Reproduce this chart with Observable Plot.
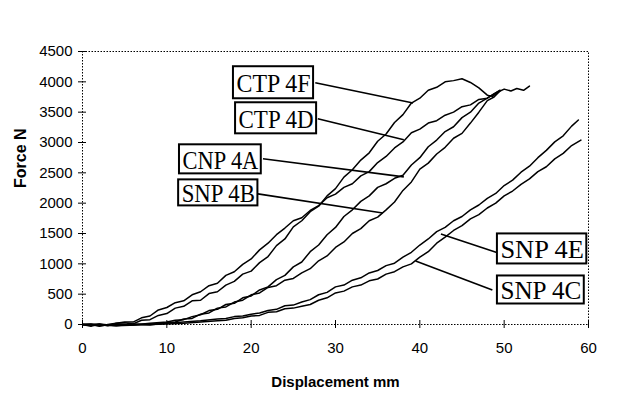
<!DOCTYPE html>
<html>
<head>
<meta charset="utf-8">
<script src="https://cdn.jsdelivr.net/npm/d3@7"></script>
<script src="https://cdn.jsdelivr.net/npm/@observablehq/plot@0.6"></script>
<style>
  html, body { margin: 0; padding: 0; background: #fff; }
</style>
</head>
<body>
<div id="chart"></div>
<script>
// Axis ticks
const xTicks = [0, 10, 20, 30, 40, 50, 60];
const yTicks = [0, 500, 1000, 1500, 2000, 2500, 3000, 3500, 4000, 4500];

// Series (Displacement mm, Force N)
const ctp4F_x = [0,1,2,3,4,5,6,7,8,9,10,11,12,13,14,15,16,17,18,19,20,21,22,23,24,25,26,27,28,29,30,31,32,33,34,35,36,37,38,39,40,41,42,43,44,45,46,47,48,48.6,49.4,50,50.8,51.5,52.3,53];
const ctp4F_y = [0,-30,10,-20,20,30,10,70,80,150,180,270,300,390,400,510,540,650,710,830,880,1020,1120,1300,1410,1610,1710,1860,1950,2120,2240,2430,2550,2710,2830,3020,3140,3330,3460,3650,3730,3860,3910,4000,4020,4050,3990,3900,3780,3760,3840,3880,3850,3890,3860,3930];

const ctp4D_x = [0,1,2,3,4,5,6,7,8,9,10,11,12,13,14,15,16,17,18,19,20,21,22,23,24,25,26,27,28,29,30,31,32,33,34,35,36,37,38,39,40,41,42,43,44,45,46,47,48,48.8,49.5];
const ctp4D_y = [0,10,-30,0,20,40,40,110,140,240,280,360,390,490,540,640,680,810,870,990,1080,1230,1340,1480,1590,1710,1760,1880,1960,2090,2150,2260,2320,2450,2520,2670,2770,2910,3010,3160,3220,3320,3360,3450,3500,3590,3620,3710,3730,3800,3860];

const cnp4A_x = [0,2,4,6,8,10,11,12,13,14,15,16,17,18,19,20,21,22,23,24,25,26,27,28,29,30,31,32,33,34,35,36,37,38,39,40,41,42,43,44,45,46,47,48,48.8,49.5];
const cnp4A_y = [0,-20,10,-10,20,40,70,80,130,160,230,250,330,350,440,470,570,620,740,810,950,1030,1200,1310,1480,1600,1780,1890,2030,2120,2260,2320,2410,2460,2630,2750,2930,3040,3180,3260,3410,3500,3650,3730,3800,3860];

const snp4B_x = [0,2,4,6,8,10,11,12,13,14,15,16,17,18,19,20,21,22,23,24,25,26,27,28,29,30,31,32,33,34,35,36,37,38,39,40,41,42,43,44,45,46,47,48,48.8,49.5];
const snp4B_y = [0,10,-20,10,-10,30,40,90,100,170,190,270,290,370,400,490,520,610,640,730,760,850,920,1050,1130,1270,1360,1500,1580,1710,1770,1890,2020,2210,2350,2560,2660,2810,2920,3070,3150,3320,3500,3690,3750,3850];

const snp4E_x = [0,4,8,10,12,14,16,17,18,19,20,21,22,23,24,25,26,27,28,29,30,31,32,33,34,35,36,37,38,39,40,41,42,43,44,45,46,47,48,49,50,51,52,53,54,55,56,57,58,58.8];
const snp4E_y = [0,-10,10,20,40,60,90,100,130,140,170,190,230,250,310,320,370,410,490,530,620,650,730,770,850,890,970,1010,1110,1190,1310,1410,1530,1600,1710,1780,1890,1970,2080,2160,2290,2380,2510,2610,2750,2870,3010,3110,3270,3370];

const snp4C_x = [0,4,8,10,12,14,16,17,18,19,20,21,22,23,24,25,26,27,28,29,30,31,32,33,34,35,36,37,38,39,40,41,42,43,44,45,46,47,48,49,50,51,52,53,54,55,56,57,58,59.1];
const snp4C_y = [0,-20,0,10,20,40,60,70,100,110,140,150,200,210,260,270,300,330,400,440,520,550,620,650,720,750,830,870,950,1000,1110,1200,1340,1440,1550,1630,1740,1810,1920,2000,2120,2200,2310,2400,2520,2600,2730,2820,2950,3040];

// Annotation labels
const labelText = ["CTP 4F", "CTP 4D", "CNP 4A", "SNP 4B", "SNP 4E", "SNP 4C"];
const boxX1 = [17.9, 18.15, 11.5, 11.4, 49.2, 49.2];
const boxX2 = [27.4, 27.76, 21.2, 20.8, 59.8, 59.5];
const boxYTop = [4249, 3655, 2962, 2384, 1493, 800];
const boxYBot = [3721, 3143, 2483, 1955, 998, 338];
const ptrX1 = [27.6, 27.9, 21.4, 20.8, 49.3, 48.6];
const ptrY1 = [3985, 3391, 2731, 2153, 1180, 569];
const ptrX2 = [39.2, 38.1, 38.1, 35.6, 42.5, 39.5];
const ptrY2 = [3650, 3044, 2434, 1838, 1493, 1048];

const seriesNames = ["CTP 4F", "CTP 4D", "CNP 4A", "SNP 4B", "SNP 4E", "SNP 4C"];
const seriesX = [ctp4F_x, ctp4D_x, cnp4A_x, snp4B_x, snp4E_x, snp4C_x];
const seriesY = [ctp4F_y, ctp4D_y, cnp4A_y, snp4B_y, snp4E_y, snp4C_y];

const rows = [];
seriesNames.forEach((name, i) => {
  seriesX[i].forEach((x, j) => rows.push({series: name, x, y: seriesY[i][j]}));
});
const ann = labelText.map((t, i) => ({
  text: t, x1: boxX1[i], x2: boxX2[i], yt: boxYTop[i], yb: boxYBot[i],
  ym: (boxYTop[i] + boxYBot[i]) / 2,
  px1: ptrX1[i], py1: ptrY1[i], px2: ptrX2[i], py2: ptrY2[i]
}));

const chart = Plot.plot({
  width: 630,
  height: 407,
  marginLeft: 82,
  marginRight: 42,
  marginTop: 51,
  marginBottom: 83,
  x: {domain: [0, 60]},
  y: {domain: [0, 4500]},
  style: {fontFamily: "'Liberation Sans', Arial, sans-serif", background: "#fff", color: "#000"},
  marks: [
    Plot.frame({stroke: "#000", strokeWidth: 1, strokeDasharray: "1.5,1.5"}),
    Plot.axisX({ticks: xTicks, tickSize: 8, dy: -4, tickPadding: 14, fontSize: 15, label: null, tickFormat: d => String(d)}),
    Plot.axisY({ticks: yTicks, tickSize: 8, dx: 4, tickPadding: 6, fontSize: 15, label: null, tickFormat: d => String(d)}),
    Plot.line(rows, {x: "x", y: "y", z: "series", stroke: "#000", strokeWidth: 1.5, strokeLinejoin: "round"}),
    Plot.link(ann, {x1: "px1", y1: "py1", x2: "px2", y2: "py2", stroke: "#000", strokeWidth: 1.6}),
    Plot.rect(ann, {x1: "x1", x2: "x2", y1: "yb", y2: "yt", fill: "#fff", stroke: "#000", strokeWidth: 2}),
    Plot.text(ann, {x: "x1", y: "ym", text: "text", textAnchor: "start", dx: 3, dy: 1, fontSize: 26, fontFamily: "'Liberation Serif', 'Times New Roman', serif", fill: "#000", className: "lbl"}),
    Plot.text(["Displacement mm"], {frameAnchor: "bottom", dy: 58, lineAnchor: "middle", fontWeight: "bold", fontSize: 15, letterSpacing: "-0.3px", fill: "#000"}),
    Plot.text(["Force N"], {frameAnchor: "left", dx: -62, rotate: -90, fontWeight: "bold", fontSize: 16, fill: "#000"})
  ]
});
document.getElementById("chart").appendChild(chart);

// Fit label text inside its box
const xs = chart.scale("x");
document.querySelectorAll(".lbl text").forEach((t, i) => {
  const w = xs.apply(boxX2[i]) - xs.apply(boxX1[i]) - 6;
  t.setAttribute("textLength", w.toFixed(1));
  t.setAttribute("lengthAdjust", "spacingAndGlyphs");
});
</script>
</body>
</html>
